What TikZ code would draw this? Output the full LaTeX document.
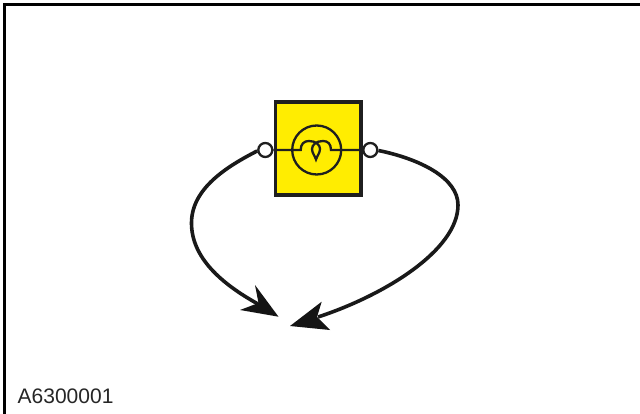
\documentclass[tikz,border=0pt]{standalone}
\usepackage{fontspec}
\setmainfont{Liberation Sans}
\tikzset{
  framestroke/.style={line width=3pt,black},
  boxstyle/.style={draw=black!88,line width=3.6pt,fill=yellow!95!orange,minimum width=85.5pt,minimum height=93pt,inner sep=0pt},
  lampring/.style={circle,draw=black!88,line width=2.3pt,minimum size=49pt,inner sep=0pt},
  terminal/.style={circle,draw=black!88,line width=2.3pt,fill=white,minimum size=14pt,inner sep=0pt},
  wire/.style={draw=black!88,line width=2.3pt},
  leader/.style={draw=black!90,line width=3.6pt},
  headfill/.style={fill=black!92,draw=none}
}
\begin{document}
\begin{tikzpicture}[x=1pt,y=-1pt]
\useasboundingbox (0,0) rectangle (640,414);
\fill[white] (0,0) rectangle (640,414);
\draw[framestroke] (4.3,414) -- (4.3,4.5) -- (640,4.5);
\node[boxstyle] (box) at (318.2,148.5) {};
\node[lampring] (lamp) at (316.7,150) {};
\coordinate (lw) at (300.7,150);
\coordinate (rw) at (331,150);
\coordinate (lh) at (258,304);
\coordinate (rh) at (318,317);
\node[terminal] (tl) at (265.3,150) {};
\node[terminal] (tr) at (370.3,150) {};
\draw[wire] (tl.east) -- (lw) .. controls (300.7,144) and (304,141) .. (309,141)
  .. controls (316,141) and (320,145) .. (320,149) .. controls (320,153) and (317,156) .. (316,159.5)
  .. controls (315,156) and (312,153) .. (312,149) .. controls (312,145) and (316,141) .. (323,141)
  .. controls (328,141) and (331,144) .. (rw) -- (tr.west);
\draw[leader] (tl.west) ++(0,1) .. controls (228,166) and (191.5,188) .. (191.5,223)
  .. controls (191.5,258) and (222,284) .. (lh);
\draw[leader] (tr.east) ++(0,0.5) .. controls (420,159) and (458,178) .. (458,205)
  .. controls (458,250) and (385,295) .. (rh);
\fill[headfill] (278.5,316.7) -- (255,285) -- (258.5,303) -- (240,310) -- cycle;
\fill[headfill] (290,326) -- (321.7,301.7) -- (317,317) -- (330,330) -- cycle;
\node[anchor=base west,inner sep=0pt,font=\fontsize{21}{24}\selectfont,text=black!85] (code) at (17.5,403) {A6300001};
\end{tikzpicture}
\end{document}
